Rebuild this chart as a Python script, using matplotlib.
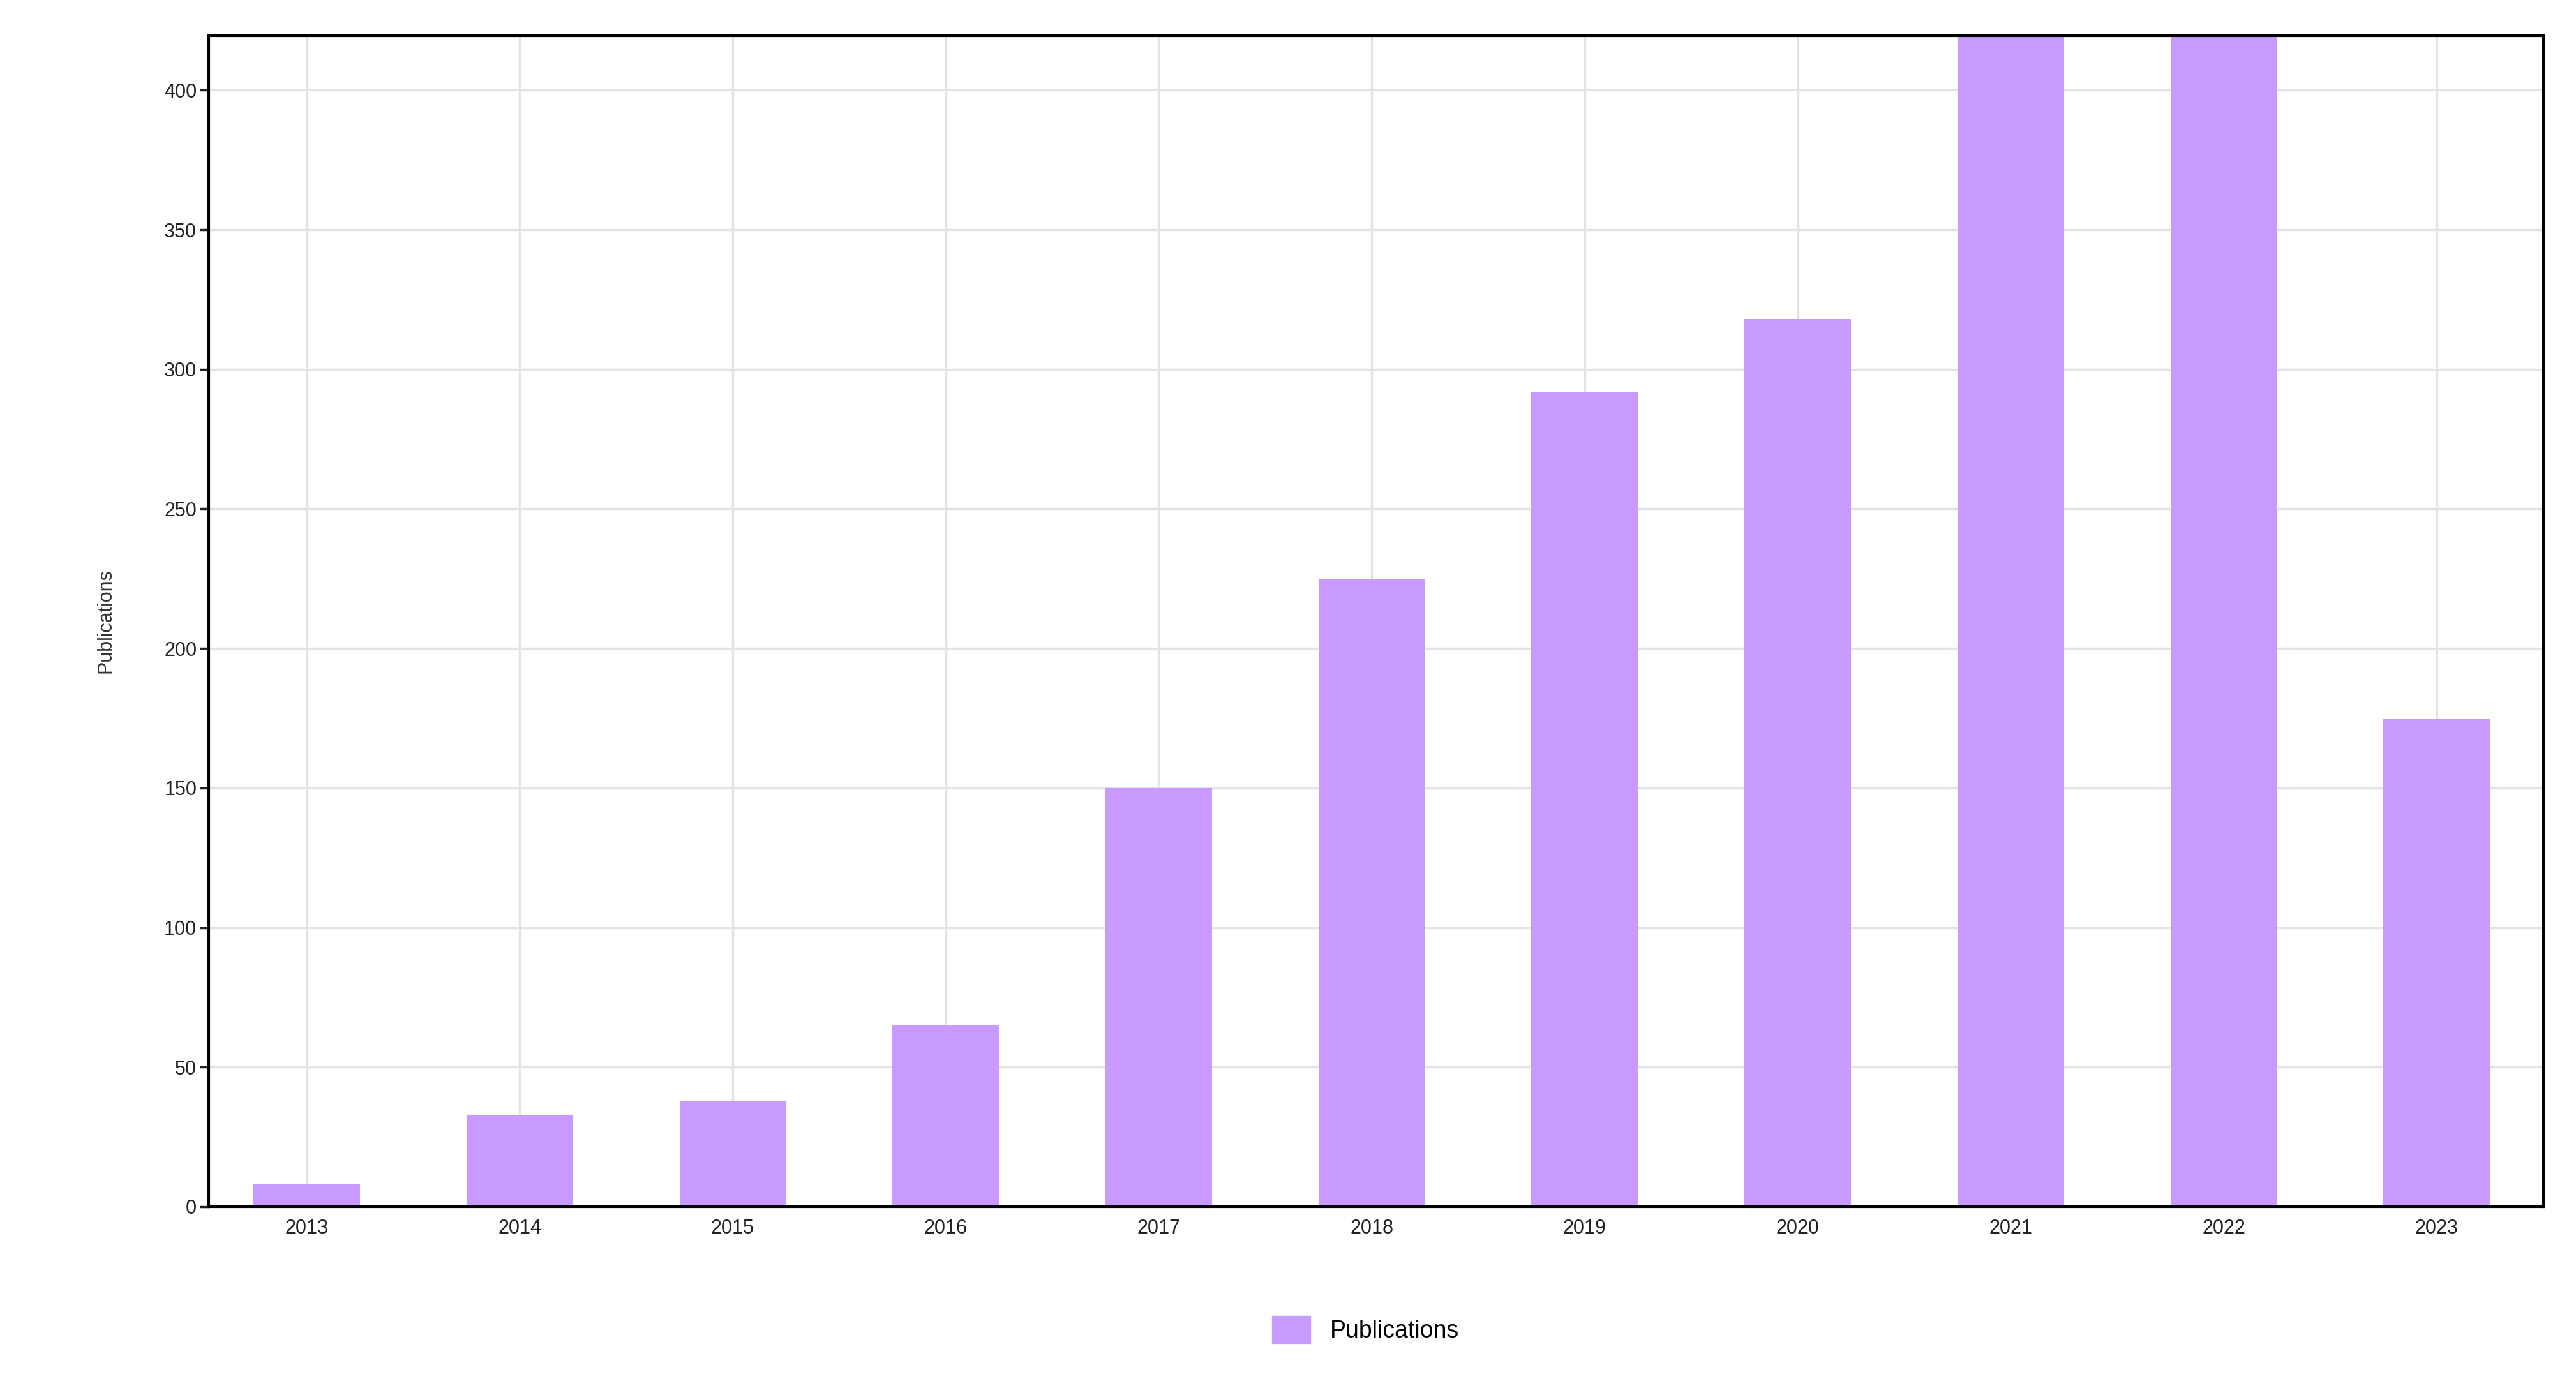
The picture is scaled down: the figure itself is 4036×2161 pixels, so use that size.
import matplotlib
matplotlib.use("Agg")
import matplotlib.pyplot as plt
from matplotlib.patches import Patch

years = ["2013","2014","2015","2016","2017","2018","2019","2020","2021","2022","2023"]
publications = [8, 33, 38, 65, 150, 225, 292, 318, 450, 470, 175]

plt.rcParams['font.family'] = ['Liberation Sans', 'DejaVu Sans']
fig = plt.figure(figsize=(40.37, 21.61), dpi=100)
ax = fig.add_axes([0.081, 0.125, 0.906, 0.849])
x = list(range(len(years)))
ax.bar(x, publications, width=0.5, color='#c899ff', zorder=2)
ax.set_xlim(-0.46, 10.5)
ax.set_ylim(0, 419.5)
ax.set_xticks(x)
ax.set_xticklabels(years)
ax.set_yticks(range(0, 401, 50))
ax.grid(True, color='#e3e3e3', linewidth=2.5, zorder=0)
ax.tick_params(labelsize=22, length=10, width=2.5, colors='#222222')
ax.tick_params(axis='x', length=0, pad=14)
for s in ax.spines.values():
    s.set_linewidth(3)
    s.set_color('black')
ax.set_ylabel('Publications', fontsize=22, labelpad=55, color='#333333')
fig.legend(handles=[Patch(color='#c899ff', label='Publications')], loc='center',
           bbox_to_anchor=(0.53, 0.036), frameon=False, fontsize=27,
           handlelength=1.6, handleheight=1.4)
fig.savefig('out.png', dpi=100)
